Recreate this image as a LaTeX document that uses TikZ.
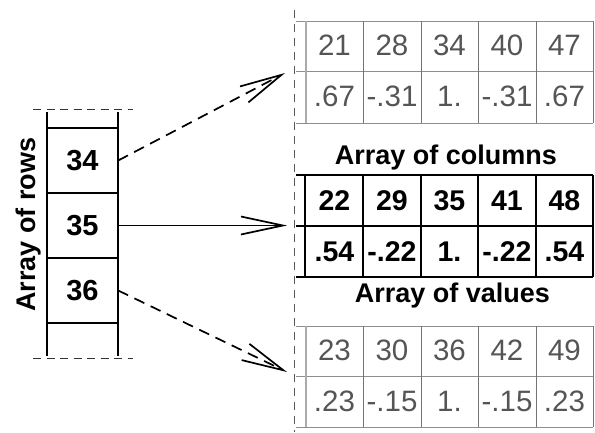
\documentclass[tikz,border=0pt]{standalone}
\usepackage{fontspec}
\setmainfont{Liberation Sans}
\usetikzlibrary{arrows.meta}
\definecolor{valgray}{HTML}{555555}
\definecolor{gridgray}{HTML}{8E8E8E}
\definecolor{colgray}{HTML}{747474}
\definecolor{edgegray}{HTML}{ABABAB}
\definecolor{guidegray}{HTML}{5A5A5A}

\begin{document}
\begin{tikzpicture}[x=1pt,y=-1pt,
  every node/.style={font=\fontsize{29.5}{34}\selectfont, inner sep=0pt},
  rowcell/.style={font=\fontsize{29}{34}\selectfont\bfseries,
    minimum width=71pt, minimum height=65pt, text height=20.8pt, text depth=0pt},
  lightval/.style={text=valgray, text height=21.1pt, text depth=0pt},
  boldval/.style={font=\fontsize{28.5}{34}\selectfont\bfseries, text height=20.4pt, text depth=0pt},
  caption/.style={font=\fontsize{27}{32}\selectfont\bfseries, anchor=base},
  ptr/.style={line width=1.7pt, -{Straight Barb[length=42pt, width=18pt]}},
  ptrdash/.style={ptr, dash pattern=on 11pt off 7pt},
  rowline/.style={line width=1.7pt},
  rowdash/.style={line width=1pt, black!80, dash pattern=on 8pt off 5.5pt},
  guide/.style={line width=1pt, guidegray, dash pattern=on 8pt off 6pt},
  lighth/.style={line width=1pt, gridgray},
  lightv/.style={line width=1pt, colgray},
  lightedge/.style={line width=1.4pt, edgegray},
  boldline/.style={line width=2pt, black}
]
\useasboundingbox (0,0) rectangle (595,432);

% ---- array of rows (left) ----
\draw[rowdash] (33,109) -- (133,109);
\draw[rowdash] (33,358) -- (133,358);
\draw[rowline] (47,112) -- (47,356);
\draw[rowline] (118,112) -- (118,356);
\foreach \yy in {128,193,258,323}
  \draw[rowline] (47,\yy) -- (118,\yy);
\node[rowcell] (r34) at (82.5,160.5) {34};
\node[rowcell] (r35) at (82.5,225.5) {35};
\node[rowcell] (r36) at (82.5,290.5) {36};
\node[caption, rotate=90] (rowslabel) at (35,224.5) {Array of rows};

% ---- vertical guide ----
\draw[guide] (294.5,10) -- (294.5,432);

% ---- upper table (light) ----
\foreach \yy in {21,71,123}
  \draw[lighth] (296,\yy) -- (593,\yy);
\foreach \xx in {363,421,478,536,593}
  \draw[lightv] (\xx,21) -- (\xx,123);
\draw[lightedge] (306,21) -- (306,123);
\foreach \t [count=\i] in {21,28,34,40,47}
  \node[lightval] (ua\i) at ({334.5+57.5*(\i-1)},45) {\t};
\foreach \t [count=\i] in {.67,-.31,1.,-.31,.67}
  \node[lightval] (ub\i) at ({334.5+57.5*(\i-1)},95.5) {\t};

% ---- middle table (bold) ----
\node[caption] (colslabel) at (446,164) {Array of columns};
\foreach \yy in {175,226,277}
  \draw[boldline] (296,\yy) -- (593,\yy);
\foreach \xx in {305,363,421,478,536,593}
  \draw[boldline] (\xx,175) -- (\xx,277);
\foreach \t [count=\i] in {22,29,35,41,48}
  \node[boldval] (ma\i) at ({334.5+57.5*(\i-1)},200.5) {\t};
\foreach \t [count=\i] in {.54,-.22,1.,-.22,.54}
  \node[boldval] (mb\i) at ({334.5+57.5*(\i-1)},251) {\t};
\node[caption] (valslabel) at (452.5,302) {Array of values};

% ---- lower table (light) ----
\foreach \yy in {326,376,427}
  \draw[lighth] (296,\yy) -- (593,\yy);
\foreach \xx in {363,421,478,536,593}
  \draw[lightv] (\xx,326) -- (\xx,427);
\draw[lightedge] (306,326) -- (306,427);
\foreach \t [count=\i] in {23,30,36,42,49}
  \node[lightval] (la\i) at ({334.5+57.5*(\i-1)},350) {\t};
\foreach \t [count=\i] in {.23,-.15,1.,-.15,.23}
  \node[lightval] (lb\i) at ({334.5+57.5*(\i-1)},400.5) {\t};

% ---- pointers ----
\coordinate (tipA) at (285,73);
\coordinate (tipB) at (287,225.5);
\coordinate (tipC) at (287,372);
\draw[ptrdash] (r34.east) -- (tipA);
\draw[ptr] (r35.east) -- (tipB);
\draw[ptrdash] (r36.east) -- (tipC);
\end{tikzpicture}
\end{document}
